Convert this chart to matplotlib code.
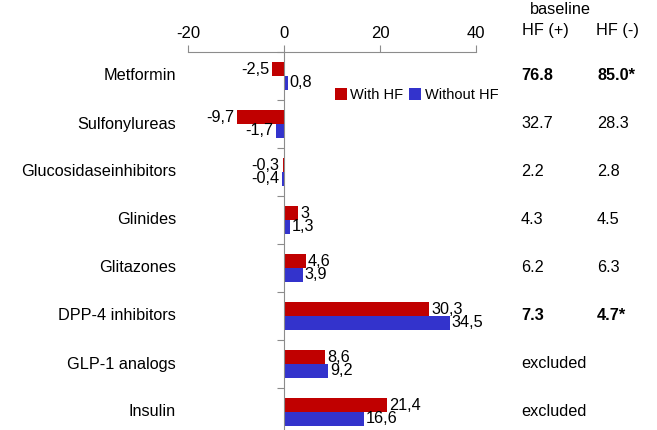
import matplotlib.pyplot as plt
import numpy as np

plt.rcParams['font.family'] = ['Liberation Sans', 'DejaVu Sans']
plt.rcParams['axes.unicode_minus'] = False

drugs = ["Metformin", "Sulfonylureas", "Glucosidaseinhibitors", "Glinides",
         "Glitazones", "DPP-4 inhibitors", "GLP-1 analogs", "Insulin"]
with_hf = [-2.5, -9.7, -0.3, 3.0, 4.6, 30.3, 8.6, 21.4]
without_hf = [0.8, -1.7, -0.4, 1.3, 3.9, 34.5, 9.2, 16.6]
base_pos = ["76.8", "32.7", "2.2", "4.3", "6.2", "7.3", "excluded", "excluded"]
base_neg = ["85.0*", "28.3", "2.8", "4.5", "6.3", "4.7*", "", ""]
bold_rows = [0, 5]

W, H = 657, 430
fs = 11.7
fig = plt.figure(figsize=(W / 100, H / 100), dpi=100)
ax = fig.add_axes([188 / W, -6 / H, 288 / W, 384 / H])

red = "#C00000"
blue = "#3333CC"
gray = "#8C8C8C"
bh = 0.29
y = np.arange(len(drugs))

ax.barh(y - bh / 2, with_hf, height=bh, color=red, label="With HF")
ax.barh(y + bh / 2, without_hf, height=bh, color=blue, label="Without HF")

ax.set_xlim(-20, 40)
ax.set_ylim(len(drugs) - 0.5, -0.5)

def fmt(v):
    s = ("%.1f" % v).replace(".", ",")
    if s.endswith(",0"):
        s = s[:-2]
    return s

for i in range(len(drugs)):
    for v, off in ((with_hf[i], -bh / 2), (without_hf[i], bh / 2)):
        if v >= 0:
            ax.text(v + 0.4, i + off, fmt(v), ha="left", va="center", fontsize=fs)
        else:
            ax.text(v - 0.6, i + off, fmt(v), ha="right", va="center", fontsize=fs)
    ax.text(-22.5, i, drugs[i], ha="right", va="center", fontsize=fs)

# axes styling
ax.xaxis.tick_top()
ax.set_xticks([-20, 0, 20, 40])
ax.tick_params(axis="x", colors=gray, labelcolor="black", labelsize=12, length=5, pad=3)
ax.spines["bottom"].set_visible(False)
ax.spines["right"].set_visible(False)
ax.spines["top"].set_color(gray)
ax.spines["left"].set_position(("data", 0))
ax.spines["left"].set_color(gray)
ax.set_yticks(np.arange(-0.5, len(drugs), 1.0))
ax.set_yticklabels([])
ax.tick_params(axis="y", colors=gray, length=5)

# baseline table
fig.text(560 / W, 1 - 10 / H, "baseline", ha="center", va="center", fontsize=fs)
fig.text(545 / W, 1 - 30 / H, "HF (+)", ha="center", va="center", fontsize=fs)
fig.text(617 / W, 1 - 30 / H, "HF (-)", ha="center", va="center", fontsize=fs)
for i in range(len(drugs)):
    yy = (76 + 48 * i)
    w = "bold" if i in bold_rows else "normal"
    fig.text(521 / W, 1 - yy / H, base_pos[i], ha="left", va="center", fontsize=fs, fontweight=w)
    if base_neg[i]:
        fig.text(597 / W, 1 - yy / H, base_neg[i], ha="left", va="center", fontsize=fs, fontweight=w)

ax.legend(loc="center left", bbox_to_anchor=(335 / W, 1 - 95 / H),
          bbox_transform=fig.transFigure, ncol=2, frameon=False, fontsize=10.5,
          handlelength=0.8, handleheight=0.8, handletextpad=0.25, columnspacing=0.4,
          borderpad=0, borderaxespad=0)

fig.savefig("out.png", dpi=100)
